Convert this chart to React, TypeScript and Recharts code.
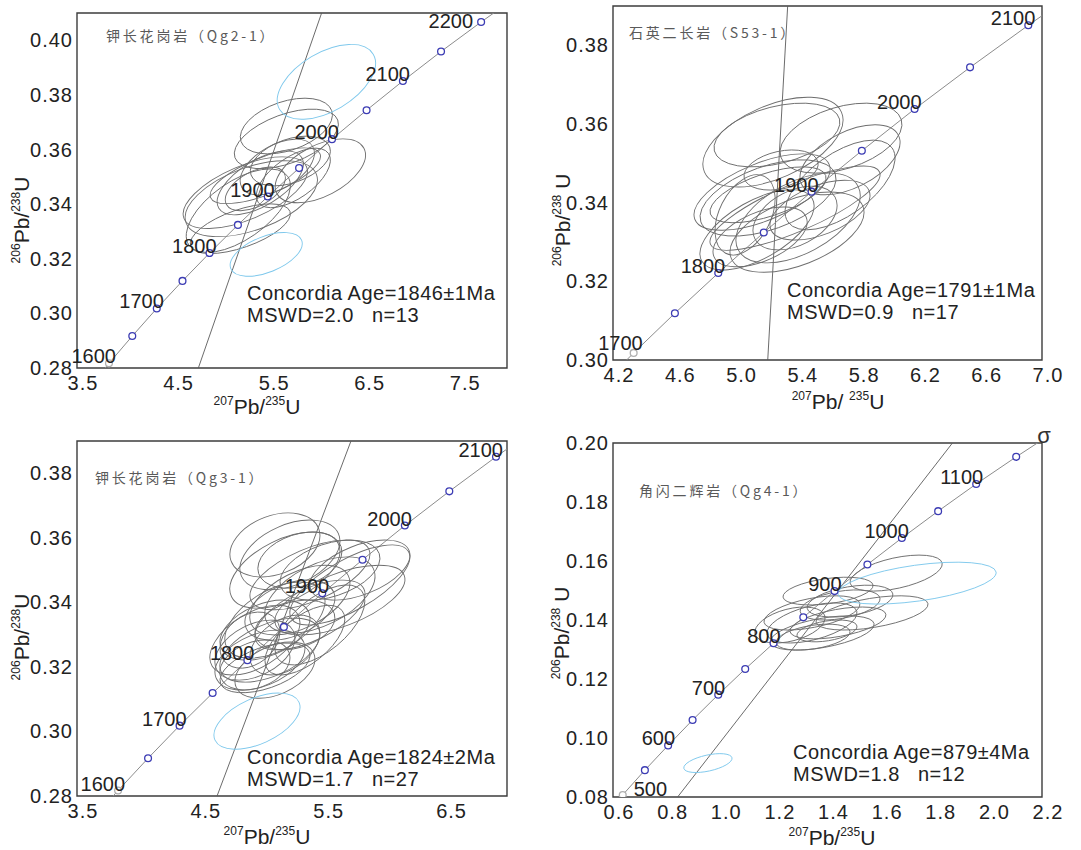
import React from "react";
import {
  ScatterChart,
  Scatter,
  XAxis,
  YAxis,
  ReferenceLine,
  ReferenceArea,
  ReferenceDot,
} from "recharts";

// concordia curve, points every 50 Ma (age, 207Pb/235U, 206Pb/238U)
const hiAges = [1550, 1600, 1650, 1700, 1750, 1800, 1850, 1900, 1950, 2000, 2050, 2100, 2150, 2200, 2250];
const hiX = [3.6021, 3.8344, 4.0784, 4.3348, 4.604, 4.8869, 5.184, 5.4962, 5.8241, 6.1685, 6.5304, 6.9105, 7.3097, 7.7292, 8.1698];
const hiY = [0.2718, 0.2817, 0.2917, 0.3018, 0.3119, 0.3221, 0.3324, 0.3428, 0.3532, 0.3638, 0.3744, 0.3851, 0.3959, 0.4067, 0.4177];

const loAges = [450, 500, 550, 600, 650, 700, 750, 800, 850, 900, 950, 1000, 1050, 1100, 1150, 1200];
const loX = [0.5577, 0.6363, 0.7189, 0.8056, 0.8968, 0.9925, 1.0931, 1.1987, 1.3097, 1.4263, 1.5488, 1.6774, 1.8126, 1.9545, 2.1037, 2.2604];
const loY = [0.0723, 0.0807, 0.0891, 0.0975, 0.1061, 0.1147, 0.1234, 0.1321, 0.1409, 0.1498, 0.1588, 0.1678, 0.1769, 0.1861, 0.1953, 0.2046];

// error ellipses: [207/235, 206/238, half range x, half range y, rho]
const qg21Gray = [
  [5.691, 0.3686, 0.482, 0.0102, 0.4],
  [5.691, 0.3639, 0.545, 0.0109, 0.5],
  [6.047, 0.3522, 0.472, 0.0117, 0.5],
  [5.261, 0.3442, 0.65, 0.0131, 0.6],
  [5.324, 0.342, 0.692, 0.0139, 0.5],
  [5.188, 0.3376, 0.545, 0.0153, 0.6],
  [5.418, 0.3478, 0.451, 0.0117, 0.6],
  [5.366, 0.3456, 0.314, 0.008, 0.5],
  [5.596, 0.3536, 0.388, 0.0102, 0.5],
  [5.764, 0.3496, 0.388, 0.0109, 0.6],
  [5.209, 0.331, 0.524, 0.0091, 0.6],
  [5.733, 0.3558, 0.419, 0.0091, 0.4],
  [5.471, 0.3504, 0.577, 0.0102, 0.7],
];
const qg21Blue = [
  [6.11, 0.3848, 0.514, 0.0137, 0.5],
  [5.48, 0.3216, 0.377, 0.008, 0.5],
];

const s531Gray = [
  [5.244, 0.3554, 0.457, 0.0114, 0.5],
  [5.27, 0.3572, 0.411, 0.0081, 0.4],
  [5.688, 0.3564, 0.398, 0.0089, 0.4],
  [5.297, 0.3483, 0.242, 0.0051, 0.3],
  [5.747, 0.3509, 0.326, 0.0089, 0.5],
  [5.173, 0.3427, 0.444, 0.0097, 0.6],
  [5.212, 0.3412, 0.444, 0.0097, 0.5],
  [5.388, 0.3386, 0.555, 0.0107, 0.8],
  [5.388, 0.3361, 0.274, 0.0081, 0.4],
  [5.14, 0.3331, 0.372, 0.0102, 0.6],
  [5.401, 0.3325, 0.437, 0.0102, 0.5],
  [5.16, 0.3313, 0.307, 0.0076, 0.5],
  [5.408, 0.3361, 0.405, 0.0114, 0.5],
  [5.212, 0.342, 0.379, 0.0071, 0.6],
  [5.682, 0.3445, 0.359, 0.0114, 0.6],
  [5.062, 0.3369, 0.196, 0.0102, 0.4],
  [5.551, 0.3381, 0.326, 0.0076, 0.5],
];

const qg31Gray = [
  [5.111, 0.3578, 0.366, 0.0099, 0.3],
  [5.233, 0.3547, 0.407, 0.0108, 0.4],
  [5.314, 0.3531, 0.342, 0.0087, 0.3],
  [5.192, 0.35, 0.448, 0.0118, 0.5],
  [5.396, 0.3485, 0.488, 0.0108, 0.6],
  [5.559, 0.35, 0.407, 0.0093, 0.4],
  [5.721, 0.3454, 0.488, 0.0124, 0.7],
  [5.64, 0.3407, 0.529, 0.0108, 0.6],
  [5.477, 0.3423, 0.448, 0.0118, 0.5],
  [5.803, 0.35, 0.407, 0.0093, 0.5],
  [5.314, 0.3407, 0.407, 0.0108, 0.5],
  [5.233, 0.3376, 0.366, 0.0093, 0.4],
  [5.396, 0.3361, 0.448, 0.0108, 0.6],
  [5.111, 0.3345, 0.407, 0.0118, 0.5],
  [5.03, 0.3314, 0.366, 0.0093, 0.4],
  [5.274, 0.333, 0.325, 0.0077, 0.3],
  [4.948, 0.3283, 0.366, 0.0108, 0.5],
  [4.948, 0.3252, 0.325, 0.0093, 0.4],
  [5.07, 0.3252, 0.407, 0.0099, 0.5],
  [4.989, 0.3221, 0.366, 0.0093, 0.4],
  [4.948, 0.3206, 0.285, 0.0077, 0.3],
  [5.111, 0.319, 0.325, 0.0087, 0.4],
  [5.03, 0.3197, 0.366, 0.0077, 0.5],
  [4.908, 0.3283, 0.244, 0.0087, 0.3],
  [5.192, 0.3268, 0.285, 0.0093, 0.4],
  [5.355, 0.3283, 0.325, 0.0108, 0.6],
  [5.477, 0.333, 0.366, 0.0124, 0.6],
];
const qg31Blue = [[4.965, 0.3032, 0.35, 0.0087, 0.5]];

const qg41Gray = [
  [1.402, 0.1498, 0.168, 0.0047, 0.4],
  [1.342, 0.1424, 0.179, 0.0058, 0.5],
  [1.484, 0.1464, 0.16, 0.0054, 0.4],
  [1.566, 0.1424, 0.209, 0.0058, 0.5],
  [1.342, 0.139, 0.168, 0.0068, 0.5],
  [1.38, 0.1356, 0.194, 0.0058, 0.5],
  [1.439, 0.139, 0.179, 0.0054, 0.5],
  [1.398, 0.1363, 0.112, 0.0037, 0.4],
  [1.346, 0.1342, 0.138, 0.0044, 0.4],
  [1.447, 0.1451, 0.149, 0.0051, 0.4],
  [1.656, 0.1559, 0.172, 0.0061, 0.5],
  [1.26, 0.1383, 0.131, 0.0061, 0.4],
];
const qg41Blue = [
  [1.734, 0.1525, 0.295, 0.0071, 0.5],
  [0.954, 0.0915, 0.09, 0.0032, 0.5],
];

const xTicksA = [3.5, 4.5, 5.5, 6.5, 7.5];
const yTicksA = [0.28, 0.3, 0.32, 0.34, 0.36, 0.38, 0.4];
const xTicksB = [4.2, 4.6, 5.0, 5.4, 5.8, 6.2, 6.6, 7.0];
const yTicksB = [0.3, 0.32, 0.34, 0.36, 0.38];
const xTicksC = [3.5, 4.5, 5.5, 6.5];
const yTicksC = [0.28, 0.3, 0.32, 0.34, 0.36, 0.38];
const xTicksD = [0.6, 0.8, 1.0, 1.2, 1.4, 1.6, 1.8, 2.0, 2.2];
const yTicksD = [0.08, 0.1, 0.12, 0.14, 0.16, 0.18, 0.2];

const FONT = '"Liberation Sans", Arial, sans-serif';
const CJK = '"Noto Sans CJK SC", "Noto Sans CJK JP", sans-serif';

const XTick = (props: any) => {
  const { x, y, payload } = props;
  return (
    <text x={x + 6} y={y + 14} textAnchor="middle" fontSize={20} fill="#222" fontFamily={FONT} letterSpacing={1}>
      {Number(payload.value).toFixed(1)}
    </text>
  );
};

const YTick = (props: any) => {
  const { x, y, payload } = props;
  return (
    <text x={x + 4} y={y + 7} textAnchor="end" fontSize={20} fill="#222" fontFamily={FONT} letterSpacing={1}>
      {Number(payload.value).toFixed(2)}
    </text>
  );
};

function ellipseShape(kx: number, ky: number, color: string) {
  return (props: any) => {
    const { cx, cy, payload } = props;
    const X = payload.sx * kx;
    const Y = payload.sy * ky;
    const c = payload.rho * X * Y;
    const a = X * X;
    const b = Y * Y;
    const m = (a + b) / 2;
    const d = Math.sqrt(((a - b) / 2) ** 2 + c * c);
    const ang = ((Math.atan2(2 * c, a - b) / 2) * 180) / Math.PI;
    return (
      <ellipse
        cx={cx}
        cy={cy}
        rx={Math.sqrt(m + d)}
        ry={Math.sqrt(Math.max(m - d, 0.5))}
        transform={`rotate(${-ang} ${cx} ${cy})`}
        fill="none"
        stroke={color}
        strokeWidth={0.9}
      />
    );
  };
}

const MarkShape = (props: any) => {
  const { cx, cy, payload } = props;
  return (
    <circle
      cx={cx}
      cy={cy}
      r={3.4}
      fill="#fff"
      stroke={payload.first ? "#b0b0b0" : "#3c3cb4"}
      strokeWidth={1.3}
    />
  );
};

const Sup = ({ children }: any) => (
  <span style={{ fontSize: 12, position: "relative", top: -9 }}>{children}</span>
);

function Panel(p: any) {
  const plotW = p.width - p.yAxisWidth - p.mr;
  const plotH = p.height - p.mt - p.xAxisHeight;
  const kx = plotW / (p.xDomain[1] - p.xDomain[0]);
  const ky = plotH / (p.yDomain[1] - p.yDomain[0]);
  const pts = p.ages.map((age: number, i: number) => ({ age, x: p.cx[i], y: p.cy[i] }));
  const line = pts.filter((d: any) => d.age >= p.lineRange[0] && d.age <= p.lineRange[1]);
  const marks = pts
    .filter((d: any) => d.age >= p.markRange[0] && d.age <= p.markRange[1])
    .map((d: any) => ({ ...d, first: d.age === p.markRange[0] }));
  const labelled = pts.filter((d: any) => p.labels.includes(d.age));
  const toEll = (e: number[]) => ({ x: e[0], y: e[1], sx: e[2], sy: e[3], rho: e[4] });
  const shift = p.labelShift || {};

  return (
    <div style={{ position: "absolute", left: p.left, top: p.top, width: p.width, height: p.height }}>
      <ScatterChart width={p.width} height={p.height} margin={{ top: p.mt, right: p.mr, left: 0, bottom: 0 }}>
        <XAxis
          type="number"
          dataKey="x"
          domain={p.xDomain}
          ticks={p.xTicks}
          interval={0}
          allowDataOverflow
          axisLine={false}
          tickLine={false}
          height={p.xAxisHeight}
          tick={XTick}
        />
        <YAxis
          type="number"
          dataKey="y"
          domain={p.yDomain}
          ticks={p.yTicks}
          interval={0}
          allowDataOverflow
          axisLine={false}
          tickLine={false}
          width={p.yAxisWidth}
          tick={YTick}
        />
        <ReferenceArea
          x1={p.xDomain[0]}
          x2={p.xDomain[1]}
          y1={p.yDomain[0]}
          y2={p.yDomain[1]}
          fill="none"
          stroke="#3c3c3c"
          strokeWidth={1.4}
          ifOverflow="visible"
        />
        <Scatter
          data={line}
          line={{ stroke: "#8c8c8c", strokeWidth: 1 }}
          lineType="joint"
          shape={() => <g />}
          isAnimationActive={false}
        />
        <ReferenceLine
          segment={[
            { x: p.discordia[0], y: p.discordia[1] },
            { x: p.discordia[2], y: p.discordia[3] },
          ]}
          stroke="#5a5a5a"
          strokeWidth={0.9}
          ifOverflow="visible"
        />
        <Scatter data={p.gray.map(toEll)} shape={ellipseShape(kx, ky, "#6e6e6e")} isAnimationActive={false} />
        <Scatter data={p.blue.map(toEll)} shape={ellipseShape(kx, ky, "#7ec8ec")} isAnimationActive={false} />
        <Scatter data={marks} shape={MarkShape} isAnimationActive={false} />
        {labelled.map((d: any) => {
          const s = shift[d.age] || [7, 0, "end"];
          return (
            <ReferenceDot
              key={d.age}
              x={d.x}
              y={d.y}
              r={0}
              ifOverflow="visible"
              shape={(sp: any) => (
                <text
                  x={sp.cx + s[0]}
                  y={sp.cy + s[1]}
                  textAnchor={s[2]}
                  fontSize={20}
                  fill="#222"
                  fontFamily={FONT}
                >
                  {d.age}
                </text>
              )}
            />
          );
        })}
      </ScatterChart>

      <div
        style={{
          position: "absolute",
          left: p.titlePos[0],
          top: p.titlePos[1] - 10,
          lineHeight: "20px",
          fontSize: 14,
          letterSpacing: 2.8,
          color: "#5a5a5a",
          fontFamily: CJK,
          whiteSpace: "nowrap",
        }}
      >
        {p.title}
      </div>
      <div
        style={{
          position: "absolute",
          left: p.resultPos[0],
          top: p.resultPos[1],
          lineHeight: "22px",
          fontSize: 20,
          letterSpacing: 0.5,
          color: "#222",
          fontFamily: FONT,
          whiteSpace: "pre",
        }}
      >
        {p.result[0]}
        {"\n"}
        {p.result[1]}
      </div>
      <div
        style={{
          position: "absolute",
          left: p.xTitlePos[0],
          top: p.xTitlePos[1],
          transform: "translate(-50%, -50%)",
          fontSize: 21,
          color: "#222",
          fontFamily: FONT,
          whiteSpace: "pre",
        }}
      >
        <Sup>207</Sup>Pb/{p.gapX ? " " : ""}<Sup>235</Sup>U
      </div>
      <div
        style={{
          position: "absolute",
          left: p.yTitlePos[0],
          top: p.yTitlePos[1],
          transform: "translate(-50%, -50%) rotate(-90deg)",
          fontSize: 21,
          color: "#222",
          fontFamily: FONT,
          whiteSpace: "pre",
        }}
      >
        <Sup>206</Sup>Pb/<Sup>238</Sup>{p.gapY ? " " : ""}U
      </div>
      {p.extra}
    </div>
  );
}

export default function App() {
  return (
    <div style={{ position: "absolute", left: 0, top: 0, width: 1081, height: 850, background: "#fff" }}>
      <Panel
        left={0}
        top={0}
        width={540}
        height={420}
        mt={13}
        mr={33}
        yAxisWidth={77}
        xAxisHeight={52}
        xDomain={[3.5, 8.0]}
        yDomain={[0.28, 0.41]}
        xTicks={xTicksA}
        yTicks={yTicksA}
        ages={hiAges}
        cx={hiX}
        cy={hiY}
        lineRange={[1550, 2250]}
        markRange={[1600, 2200]}
        labels={[1600, 1700, 1800, 1900, 2000, 2100, 2200]}
        labelShift={{ 2200: [-8, 6, "end"] }}
        discordia={[4.77, 0.28, 6.06, 0.41]}
        gray={qg21Gray}
        blue={qg21Blue}
        title="钾长花岗岩（Qg2-1）"
        titlePos={[106, 35]}
        result={["Concordia Age=1846±1Ma", "MSWD=2.0   n=13"]}
        resultPos={[247, 282]}
        xTitlePos={[257, 407]}
        yTitlePos={[22, 220]}
      />
      <Panel
        left={540}
        top={0}
        width={541}
        height={420}
        mt={6}
        mr={39}
        yAxisWidth={73}
        xAxisHeight={60}
        xDomain={[4.2, 7.0]}
        yDomain={[0.3, 0.39]}
        xTicks={xTicksB}
        yTicks={yTicksB}
        ages={hiAges}
        cx={hiX}
        cy={hiY}
        lineRange={[1650, 2150]}
        markRange={[1700, 2100]}
        labels={[1700, 1800, 1900, 2000, 2100]}
        labelShift={{ 1700: [9, -3, "end"] }}
        discordia={[5.21, 0.3, 5.34, 0.39]}
        gray={s531Gray}
        blue={[]}
        title="石英二长岩（S53-1）"
        titlePos={[89, 32]}
        result={["Concordia Age=1791±1Ma", "MSWD=0.9   n=17"]}
        resultPos={[247, 279]}
        xTitlePos={[298, 402]}
        yTitlePos={[23, 220]}
        gapX
        gapY
      />
      <Panel
        left={0}
        top={420}
        width={540}
        height={430}
        mt={21}
        mr={33}
        yAxisWidth={77}
        xAxisHeight={54}
        xDomain={[3.5, 7.0]}
        yDomain={[0.28, 0.39]}
        xTicks={xTicksC}
        yTicks={yTicksC}
        ages={hiAges}
        cx={hiX}
        cy={hiY}
        lineRange={[1550, 2150]}
        markRange={[1600, 2100]}
        labels={[1600, 1700, 1800, 1900, 2000, 2100]}
        discordia={[4.64, 0.28, 5.73, 0.39]}
        gray={qg31Gray}
        blue={qg31Blue}
        title="钾长花岗岩（Qg3-1）"
        titlePos={[95, 57]}
        result={["Concordia Age=1824±2Ma", "MSWD=1.7   n=27"]}
        resultPos={[247, 326]}
        xTitlePos={[267, 417]}
        yTitlePos={[22, 217]}
      />
      <Panel
        left={540}
        top={420}
        width={541}
        height={430}
        mt={23}
        mr={39}
        yAxisWidth={73}
        xAxisHeight={53}
        xDomain={[0.6, 2.2]}
        yDomain={[0.08, 0.2]}
        xTicks={xTicksD}
        yTicks={yTicksD}
        ages={loAges}
        cx={loX}
        cy={loY}
        lineRange={[450, 1200]}
        markRange={[500, 1150]}
        labels={[500, 600, 700, 800, 900, 1000, 1100]}
        labelShift={{ 500: [11, 1, "start"] }}
        discordia={[0.841, 0.08, 1.866, 0.2]}
        gray={qg41Gray}
        blue={qg41Blue}
        title="角闪二辉岩（Qg4-1）"
        titlePos={[99, 70]}
        result={["Concordia Age=879±4Ma", "MSWD=1.8   n=12"]}
        resultPos={[253, 321]}
        xTitlePos={[292, 418]}
        yTitlePos={[22, 213]}
        gapY
        extra={
          <div
            style={{
              position: "absolute",
              left: 504,
              top: 16,
              transform: "translate(-50%, -50%)",
              fontSize: 22,
              color: "#333",
              fontFamily: FONT,
            }}
          >
            σ
          </div>
        }
      />
    </div>
  );
}
